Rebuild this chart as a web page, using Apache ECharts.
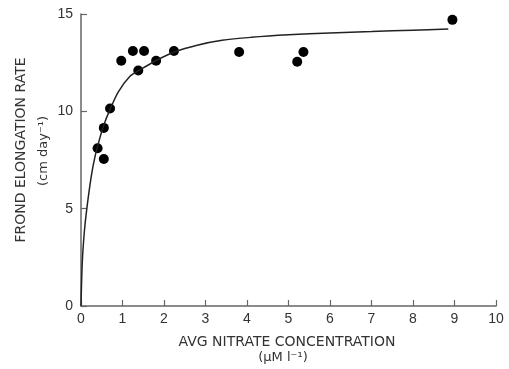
<!DOCTYPE html>
<html>
<head>
<meta charset="utf-8">
<script src="https://cdn.jsdelivr.net/npm/echarts@6/dist/echarts.min.js"></script>
<style>
html,body{margin:0;padding:0;background:#fff;}
#chart{width:509px;height:369px;}
</style>
</head>
<body>
<div id="chart"></div>
<script>
// Observed points (avg nitrate concentration, frond elongation rate)
var obsX = [0.4, 0.55, 0.55, 0.7, 0.97, 1.25, 1.52, 1.38, 1.81, 2.24, 3.81, 5.21, 5.36, 8.95];
var obsY = [8.1, 7.55, 9.15, 10.15, 12.6, 13.1, 13.1, 12.1, 12.6, 13.1, 13.05, 12.55, 13.05, 14.7];
// Fitted curve
var curveX = [0, 0.03, 0.08, 0.14, 0.25, 0.34, 0.45, 0.55, 0.7, 0.9, 1.18, 1.4, 1.8, 2.25, 2.8, 3.4, 4.1, 5, 6, 7, 8, 8.85];
var curveY = [0, 2.2, 3.8, 5.0, 6.7, 7.7, 8.6, 9.3, 10.1, 11.0, 11.8, 12.1, 12.6, 13.05, 13.4, 13.65, 13.8, 13.93, 14.03, 14.1, 14.17, 14.23];
var xTicks = [0, 1, 2, 3, 4, 5, 6, 7, 8, 9, 10];
var yTicks = [0, 5, 10, 15];

var chart = echarts.init(document.getElementById('chart'), null, {renderer: 'canvas'});
var font = 'Liberation Sans';
var titleFont = '14px "DejaVu Sans"';
var unitFont = '13px "DejaVu Sans"';
var axisColor = '#666';
var textColor = '#333';

chart.setOption({
  backgroundColor: '#fff',
  animation: false,
  grid: {left: 81, right: 13, top: 14, bottom: 63},
  xAxis: {
    type: 'value', min: 0, max: 10, interval: 1,
    axisLine: {lineStyle: {color: axisColor, width: 1.5}},
    axisTick: {inside: true, length: 6, lineStyle: {color: axisColor, width: 1.2}},
    axisLabel: {color: textColor, fontFamily: font, fontSize: 14, margin: 6,
      formatter: function (v) { return xTicks.indexOf(v) >= 0 ? String(v) : ''; }},
    splitLine: {show: false}
  },
  yAxis: {
    type: 'value', min: 0, max: 15, interval: 5,
    axisLine: {show: true, lineStyle: {color: axisColor, width: 1.5}},
    axisTick: {show: true, inside: true, length: 6, lineStyle: {color: axisColor, width: 1.2}},
    axisLabel: {color: textColor, fontFamily: font, fontSize: 14, margin: 8,
      formatter: function (v) { return yTicks.indexOf(v) >= 0 ? String(v) : ''; }},
    splitLine: {show: false}
  },
  graphic: [
    {type: 'text', style: {text: 'AVG NITRATE CONCENTRATION', fill: textColor, font: titleFont, textAlign: 'center', textVerticalAlign: 'middle'}, position: [287, 342], silent: true},
    {type: 'text', style: {text: '(\u03bcM l\u207b\u00b9)', fill: textColor, font: unitFont, textAlign: 'center', textVerticalAlign: 'middle'}, position: [283, 358], silent: true},
    {type: 'text', style: {text: 'FROND ELONGATION RATE', fill: textColor, font: titleFont, textAlign: 'center', textVerticalAlign: 'middle'}, position: [21, 150], rotation: Math.PI / 2, silent: true},
    {type: 'text', style: {text: '(cm day\u207b\u00b9)', fill: textColor, font: unitFont, textAlign: 'center', textVerticalAlign: 'middle'}, position: [44, 151], rotation: Math.PI / 2, silent: true}
  ],
  series: [
    {
      type: 'line', smooth: 0.3, symbol: 'none',
      data: curveX.map(function (x, i) { return [x, curveY[i]]; }),
      lineStyle: {color: '#222', width: 1.5}
    },
    {
      type: 'scatter', symbol: 'circle', symbolSize: 10,
      data: obsX.map(function (x, i) { return [x, obsY[i]]; }),
      itemStyle: {color: '#000', opacity: 1}
    }
  ]
});
</script>
</body>
</html>
